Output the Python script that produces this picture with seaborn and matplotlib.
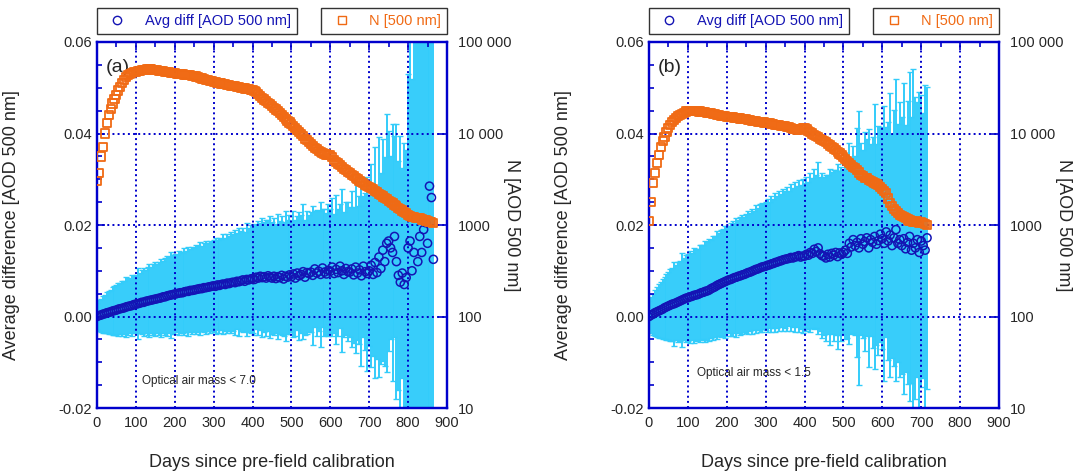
import numpy as np
import pandas as pd
import seaborn as sns
import matplotlib.pyplot as plt
from matplotlib.lines import Line2D
from matplotlib.ticker import MultipleLocator, FixedLocator, FixedFormatter, NullLocator, FormatStrFormatter

# values read every 5 days since pre-field calibration
# avg diff and its std are in units of 1e-4 AOD, N is number of matched points

# (a) optical air mass < 7.0
diff_a = [0, 2, 3, 5, 6, 8, 9, 10, 12, 13,
          14, 16, 17, 18, 19, 21, 22, 23, 24, 26,
          27, 28, 29, 31, 31, 33, 34, 35, 36, 37,
          38, 39, 40, 41, 43, 43, 45, 46, 47, 48,
          49, 50, 51, 52, 52, 54, 55, 55, 57, 57,
          58, 59, 60, 61, 61, 63, 63, 64, 65, 66,
          67, 66, 69, 68, 70, 71, 70, 73, 72, 74,
          75, 74, 77, 76, 78, 80, 77, 81, 80, 82,
          83, 81, 86, 84, 88, 85, 87, 84, 89, 86,
          84, 88, 83, 87, 85, 90, 82, 88, 86, 91,
          87, 93, 84, 95, 89, 92, 98, 86, 96, 94,
          97, 90, 104, 95, 99, 92, 106, 97, 93, 101,
          99, 108, 94, 103, 96, 110, 100, 92, 105, 98,
          97, 104, 91, 108, 95, 102, 89, 110, 98, 94,
          100, 112, 92, 118, 96, 130, 105, 145, 120, 160,
          165, 150, 140, 175, 120, 90, 75, 95, 70, 85,
          150, 165, 100, 140, 215, 120, 175, 140, 190, 205,
          160, 285, 260, 125]
err_a = [30, 34, 36, 40, 42, 45, 47, 49, 52, 53,
         55, 58, 56, 60, 58, 66, 62, 60, 66, 63,
         63, 78, 66, 70, 74, 68, 74, 79, 72, 78,
         81, 76, 80, 85, 78, 84, 88, 83, 95, 86,
         87, 84, 92, 89, 87, 95, 89, 98, 91, 95,
         92, 98, 94, 101, 93, 97, 102, 96, 100, 97,
         100, 105, 98, 104, 100, 110, 102, 108, 103, 110,
         106, 114, 105, 118, 109, 113, 108, 124, 113, 118,
         118, 121, 114, 125, 117, 130, 120, 126, 121, 133,
         122, 128, 119, 137, 123, 130, 125, 142, 124, 130,
         121, 137, 127, 125, 140, 129, 148, 126, 134, 128,
         131, 152, 127, 137, 131, 158, 129, 139, 133, 144,
         135, 150, 131, 162, 139, 135, 178, 137, 146, 152,
         142, 170, 149, 188, 147, 162, 198, 154, 172, 212,
         165, 222, 178, 252, 188, 262, 208, 242, 228, 282,
         240, 200, 280, 220, 300, 250, 320, 230, 310, 280,
         380, 520, 420, 650, 480, 600, 450, 800, 550, 700,
         820, 650, 950, 700]
n_a = [3000, 3700, 5600, 7200, 10000, 12900, 15900, 18700, 21300, 24000,
       26300, 29500, 32500, 35500, 38400, 41000, 43700, 45000, 46000, 46800,
       47300, 48000, 48600, 49000, 49400, 49800, 50100, 50200, 50100, 49800,
       49400, 49000, 48600, 48200, 47800, 47300, 46900, 46500, 46100, 45800,
       45500, 45200, 44900, 44600, 44300, 44000, 43700, 43400, 43100, 42800,
       42600, 42000, 41300, 40600, 39900, 39200, 38600, 38000, 37400, 37100,
       36800, 36400, 36000, 35600, 35200, 34800, 34400, 34000, 33600, 33300,
       33100, 32800, 32400, 32100, 31700, 31400, 31000, 30700, 30400, 30100,
       29900, 29200, 28200, 27000, 25800, 24600, 23500, 22500, 21500, 20800,
       20000, 19200, 18300, 17500, 16700, 15900, 15200, 14500, 13800, 13200,
       12600, 12000, 11400, 10800, 10300, 9800, 9300, 8800, 8400, 8000,
       7600, 7300, 7000, 6700, 6500, 6300, 6100, 6000, 5900, 5850,
       5800, 5500, 5150, 4900, 4700, 4500, 4300, 4100, 3950, 3800,
       3670, 3550, 3400, 3250, 3150, 3050, 2970, 2850, 2750, 2680,
       2620, 2530, 2450, 2370, 2280, 2200, 2130, 2050, 1980, 1920,
       1850, 1790, 1730, 1670, 1600, 1540, 1490, 1440, 1400, 1340,
       1290, 1250, 1230, 1210, 1200, 1190, 1180, 1150, 1130, 1120,
       1100, 1090, 1080, 1060]

# (b) optical air mass < 1.5
diff_b = [0, 3, 5, 8, 10, 12, 14, 16, 19, 21,
          23, 25, 27, 28, 30, 32, 34, 36, 38, 40,
          41, 43, 44, 46, 47, 48, 50, 52, 53, 55,
          56, 58, 61, 63, 65, 68, 70, 72, 74, 76,
          78, 80, 81, 83, 85, 86, 88, 89, 91, 92,
          94, 96, 97, 99, 101, 103, 104, 106, 108, 109,
          110, 112, 113, 115, 116, 118, 119, 121, 122, 124,
          125, 126, 127, 129, 128, 130, 131, 133, 130, 132,
          132, 136, 134, 140, 138, 147, 142, 150, 137, 133,
          132, 128, 136, 130, 138, 134, 140, 131, 139, 136,
          140, 145, 138, 160, 152, 168, 155, 162, 150, 170,
          158, 164, 172, 150, 168, 162, 175, 158, 166, 180,
          170, 160, 185, 165, 178, 155, 172, 190, 160, 168,
          155, 170, 148, 162, 175, 145, 160, 150, 168, 140,
          165, 155, 145, 172]
err_b = [35, 40, 45, 50, 54, 58, 62, 65, 68, 72,
         74, 79, 80, 92, 82, 88, 87, 102, 90, 95,
         95, 100, 95, 103, 101, 99, 106, 104, 103, 110,
         107, 112, 107, 114, 110, 118, 112, 116, 117, 122,
         120, 117, 124, 126, 120, 130, 123, 129, 130, 126,
         129, 134, 129, 137, 130, 140, 133, 140, 141, 136,
         140, 145, 138, 148, 141, 151, 144, 153, 146, 155,
         150, 157, 148, 161, 152, 163, 155, 166, 157, 168,
         160, 168, 161, 173, 164, 175, 167, 188, 169, 181,
         172, 182, 174, 192, 177, 187, 181, 202, 179, 190,
         178, 195, 185, 220, 190, 205, 195, 250, 300, 210,
         205, 240, 215, 260, 210, 230, 290, 220, 250, 235,
         240, 300, 230, 260, 310, 245, 280, 330, 260, 300,
         280, 340, 270, 310, 360, 290, 380, 330, 300, 350,
         320, 290, 360, 330]
n_b = [1100, 1800, 2860, 3670, 4720, 5820, 7180, 8200, 9230, 10300,
       11400, 12500, 13500, 14200, 14900, 15500, 15900, 16400, 16900, 17400,
       17700, 17800, 17800, 17700, 17700, 17600, 17400, 17300, 17100, 17000,
       16900, 16800, 16600, 16500, 16300, 16100, 15900, 15700, 15500, 15400,
       15300, 15200, 15100, 15000, 14900, 14800, 14700, 14600, 14500, 14400,
       14300, 14200, 14000, 13800, 13700, 13600, 13500, 13400, 13300, 13200,
       13100, 13000, 12900, 12800, 12700, 12500, 12400, 12300, 12200, 12100,
       12100, 11900, 11700, 11500, 11300, 11100, 10900, 11000, 11200, 11400,
       11400, 11100, 10600, 10300, 10000, 9700, 9400, 9100, 8800, 8500,
       8300, 8000, 7700, 7400, 7100, 6850, 6600, 6300, 6050, 5800,
       5570, 5300, 5000, 4750, 4500, 4320, 4170, 3950, 3750, 3550,
       3400, 3300, 3240, 3100, 3000, 2950, 2850, 2800, 2735, 2600,
       2450, 2330, 2215, 1950, 1725, 1600, 1500, 1420, 1350, 1300,
       1250, 1210, 1180, 1150, 1120, 1100, 1090, 1080, 1100, 1060,
       1090, 1040, 1020, 1000]

n_ticks = [10, 100, 1000, 10000, 100000]
n_tick_labels = ["10", "100", "1000", "10 000", "100 000"]

BLUE = "#0000CC"
NAVY = "#1414B4"
CYAN = "#33CCFA"
ORANGE = "#F06A14"


def make_frame(diff, err, n):
    return pd.DataFrame({"day": np.arange(len(diff)) * 5,
                         "diff": np.array(diff) / 1e4,
                         "err": np.array(err) / 1e4,
                         "n": n})


def panel(ax, df, tag, note, note_xy):
    ax.errorbar(df["day"], df["diff"], yerr=df["err"], fmt="none", ecolor=CYAN,
                elinewidth=1.4, capsize=2, capthick=1, zorder=2)
    sns.scatterplot(data=df, x="day", y="diff", marker="o", s=34, color=NAVY,
                    facecolor="none", edgecolor=NAVY, linewidth=1.1, ax=ax, zorder=3)
    ax.set_xlim(0, 900)
    ax.set_ylim(-0.02, 0.06)
    ax.xaxis.set_major_locator(MultipleLocator(100))
    ax.xaxis.set_minor_locator(MultipleLocator(50))
    ax.yaxis.set_major_locator(MultipleLocator(0.02))
    ax.yaxis.set_minor_locator(MultipleLocator(0.005))
    ax.yaxis.set_major_formatter(FormatStrFormatter("%.2f"))
    ax.tick_params(which="both", direction="in", color=BLUE, width=1.2,
                   top=True, right=False, labelsize=10.5)
    ax.tick_params(which="major", length=6)
    ax.tick_params(which="minor", length=3.5)
    ax.tick_params(axis="x", pad=6)
    ax.grid(True, which="major", ls=":", color=BLUE, lw=1.4)
    ax.set_axisbelow(False)
    ax.set_xlabel("Days since pre-field calibration", fontsize=13)
    ax.xaxis.set_label_coords(0.5, -0.125)
    ax.set_ylabel("Average difference [AOD 500 nm]", fontsize=13)
    ax.yaxis.set_label_coords(-0.22, 0.5)
    ax.text(0.024, 0.93, tag, transform=ax.transAxes, fontsize=14, va="center")
    ax.text(note_xy[0], note_xy[1], note, fontsize=8.5, va="center")

    ax2 = ax.twinx()
    sns.scatterplot(data=df, x="day", y="n", marker="s", s=34, color=ORANGE,
                    facecolor="none", edgecolor=ORANGE, linewidth=1.3, ax=ax2, zorder=3)
    ax2.set_yscale("log")
    ax2.set_ylim(10, 100000)
    ax2.set_xlim(0, 900)
    ax2.yaxis.set_major_locator(FixedLocator(n_ticks))
    ax2.yaxis.set_major_formatter(FixedFormatter(n_tick_labels))
    ax2.yaxis.set_minor_locator(NullLocator())
    ax2.tick_params(axis="y", direction="in", color=BLUE, width=1.2, length=6,
                    labelsize=10.5, pad=8)
    ax2.set_xlabel("")
    ax2.set_ylabel("N [AOD 500 nm]", fontsize=13, rotation=270, va="center")
    ax2.yaxis.set_label_coords(1.185, 0.5)
    for a in (ax, ax2):
        for sp in a.spines.values():
            sp.set_color(BLUE)
            sp.set_linewidth(1.6)

    h1 = Line2D([], [], ls="", marker="o", mfc="none", mec=NAVY, ms=6)
    h2 = Line2D([], [], ls="", marker="s", mfc="none", mec=ORANGE, ms=6)
    leg1 = ax.legend([h1], ["Avg diff [AOD 500 nm]"], loc="lower left",
                     bbox_to_anchor=(0.0, 1.022), borderaxespad=0, fancybox=False,
                     edgecolor="#333333", framealpha=1, fontsize=10.5,
                     labelcolor=NAVY, handletextpad=0.9)
    leg1.get_frame().set_linewidth(1.0)
    leg2 = ax2.legend([h2], ["N [500 nm]"], loc="lower right",
                      bbox_to_anchor=(1.0, 1.022), borderaxespad=0, fancybox=False,
                      edgecolor="#333333", framealpha=1, fontsize=10.5,
                      labelcolor=ORANGE, handletextpad=0.9)
    leg2.get_frame().set_linewidth(1.0)


sns.set_style("white")
plt.rcParams["font.family"] = ["Liberation Sans", "DejaVu Sans"]
plt.rcParams["axes.unicode_minus"] = False

fig = plt.figure(figsize=(10.75, 4.74), dpi=100)
ax_a = fig.add_axes([0.0902, 0.1392, 0.3256, 0.7722])
ax_b = fig.add_axes([0.6037, 0.1392, 0.3256, 0.7722])

panel(ax_a, make_frame(diff_a, err_a, n_a), "(a)", "Optical air mass < 7.0", (115, -0.014))
panel(ax_b, make_frame(diff_b, err_b, n_b), "(b)", "Optical air mass < 1.5", (123, -0.0124))

fig.savefig("out.png", dpi=100)
